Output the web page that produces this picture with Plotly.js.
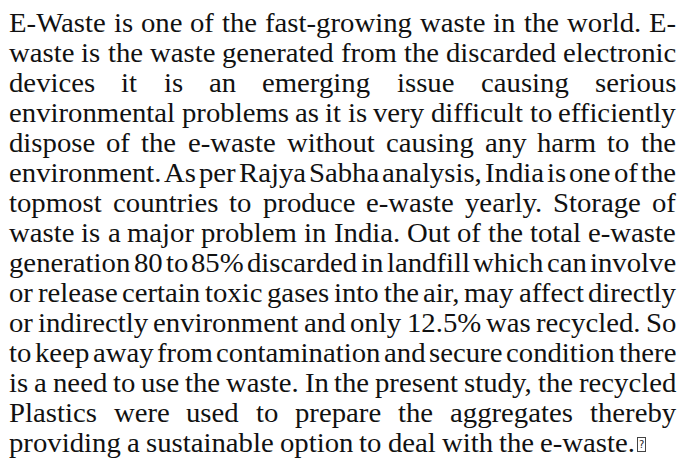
<!DOCTYPE html>
<html><head><meta charset="utf-8">
<script src="https://cdn.plot.ly/plotly-3.0.1.min.js"></script>
<style>html,body{margin:0;padding:0;background:#fff}</style></head>
<body><div id="chart" style="width:681px;height:474px"></div>
<script>
const lines = [
  "E-Waste is one of the fast-growing waste in the world. E-",
  "waste is the waste generated from the discarded electronic",
  "devices it is an emerging issue causing serious",
  "environmental problems as it is very difficult to efficiently",
  "dispose of the e-waste without causing any harm to the",
  "environment. As per Rajya Sabha analysis, India is one of the",
  "topmost countries to produce e-waste yearly. Storage of",
  "waste is a major problem in India. Out of the total e-waste",
  "generation 80 to 85% discarded in landfill which can involve",
  "or release certain toxic gases into the air, may affect directly",
  "or indirectly environment and only 12.5% was recycled. So",
  "to keep away from contamination and secure condition there",
  "is a need to use the waste. In the present study, the recycled",
  "Plastics were used to prepare the aggregates thereby",
  "providing a sustainable option to deal with the e-waste."
];
const justified = [true,true,true,true,true,true,true,true,true,true,true,true,true,true,false];
const endMark = "?";

const W=681, H=474, left=9, right=676, firstBase=32, lastBase=452, lastLineEnd=635;
const size = 27;
const fontFamily = 'Liberation Serif';
const ctx = document.createElement('canvas').getContext('2d');
function tw(s){ ctx.font = size+'px "'+fontFamily+'"'; return ctx.measureText(s).width; }

// global horizontal compression from the free-set last line
const spaceW = tw(' ');
const lastWords = lines[lines.length-1].split(' ');
const lastSum = lastWords.reduce((a,x)=>a+tw(x),0);
const compGlobal = (lastLineEnd-left) / (lastSum + (lastWords.length-1)*spaceW*0.85);
const minGap = 2.5;

const step = (lastBase-firstBase)/(lines.length-1);
const annotations=[];
const targetLen=[];
lines.forEach((l,i)=>{
  const ws=l.split(' ');
  const nat=ws.map(x=>tw(x));
  const sum=nat.reduce((a,b)=>a+b,0);
  let comp = compGlobal;
  if(justified[i]){
    const maxC = (right-left-(ws.length-1)*minGap)/sum;
    if(maxC<comp) comp=maxC;
  }
  const widths=nat.map(v=>v*comp);
  const total=sum*comp;
  const gap = justified[i] && ws.length>1 ? (right-left-total)/(ws.length-1) : spaceW*comp*0.85;
  const base = firstBase + i*step;
  const yc = base - 0.34*size;
  let x=left;
  ws.forEach((w,j)=>{
    annotations.push({text:w, x:x/W, y:1-yc/H, xref:'paper', yref:'paper',
      xanchor:'left', yanchor:'middle', align:'left', showarrow:false,
      borderwidth:0, borderpad:0,
      font:{family:fontFamily, size:size, color:'#111111'}});
    targetLen.push(widths[j]);
    x += widths[j]+gap;
  });
  if(i===lines.length-1){
    annotations.push({text:endMark, x:(x-gap+2)/W, y:1-(base-8)/H, xref:'paper', yref:'paper',
      xanchor:'left', yanchor:'middle', align:'center', showarrow:false,
      bordercolor:'#444444', borderwidth:1, borderpad:1,
      font:{family:'DejaVu Sans', size:10, color:'#222222'}});
    targetLen.push(null);
  }
});

Plotly.newPlot('chart', [], {
  width:W, height:H, margin:{l:0,r:0,t:0,b:0},
  paper_bgcolor:'#ffffff', plot_bgcolor:'#ffffff',
  xaxis:{visible:false, range:[0,1]}, yaxis:{visible:false, range:[0,1]},
  showlegend:false, annotations:annotations
}, {staticPlot:true, displayModeBar:false}).then(gd=>{
  const texts = gd.querySelectorAll('.annotation .annotation-text');
  texts.forEach((t,k)=>{
    const L = targetLen[k];
    if(L){ t.setAttribute('textLength', L.toFixed(2)); t.setAttribute('lengthAdjust','spacingAndGlyphs'); }
  });
});
</script></body></html>
